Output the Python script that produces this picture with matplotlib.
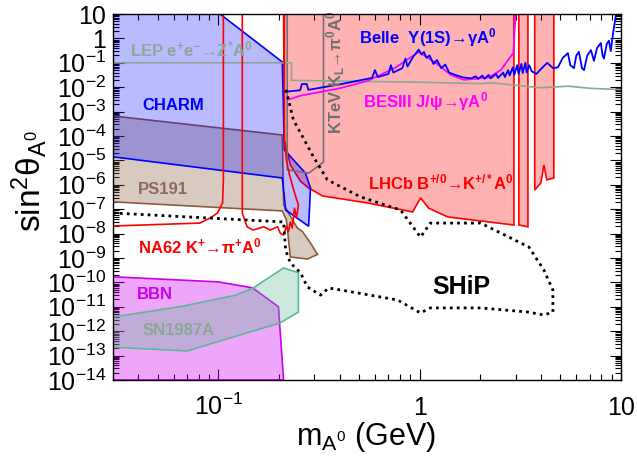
import matplotlib
matplotlib.use("Agg")
import matplotlib.pyplot as plt
from matplotlib.ticker import LogLocator, FixedLocator, FuncFormatter, NullFormatter
import numpy as np

plt.rcParams["font.family"] = ["Liberation Sans", "DejaVu Sans"]
plt.rcParams["mathtext.fontset"] = "custom"
plt.rcParams["mathtext.rm"] = "Liberation Sans"
plt.rcParams["mathtext.it"] = "Liberation Sans:italic"
plt.rcParams["mathtext.bf"] = "Liberation Sans:bold"

# ---- data: mass m_A0 in GeV, sin^2 theta ----
charm_m = [0.03, 0.102, 0.208, 0.213, 0.271, 0.287, 0.281, 0.216, 0.208, 0.03]
charm_s = [10, 10, 0.108, 2.7e-5, 3.0e-6, 7.4e-7, 2.0e-8, 9.3e-8, 1.9e-6, 1.4e-5]

ps191_m = [0.03, 0.208, 0.211, 0.247, 0.262, 0.287, 0.311, 0.277, 0.228, 0.218, 0.208, 0.03]
ps191_s = [6.6e-4, 1.1e-4, 1.5e-7, 1.7e-8, 1.2e-8, 4.1e-9, 1.4e-9, 9.1e-10, 1.1e-9, 3.6e-8, 8.5e-8, 2.0e-7]

lhcb_m = [0.211, 2.94, 2.94, 1.38, 1.11, 1.01, 0.923, 0.551, 0.329, 0.281, 0.256, 0.228, 0.213]
lhcb_s = [10, 10, 2.25e-8, 4.8e-8, 1.1e-7, 2.9e-7, 7.7e-8, 1.8e-7, 3.5e-7, 7.4e-7, 1.4e-6, 6.5e-6, 7e-5]
band1_m = [3.11, 3.45, 3.45, 3.11]
band1_s = [10, 10, 1.9e-8, 2.25e-8]
band2_m = [3.73, 4.64, 4.64, 4.28, 4.14, 4.0, 3.73]
band2_s = [10, 10, 1.9e-6, 1.6e-6, 6.5e-6, 1.2e-6, 6.1e-7]

ktev_m = [0.220, 0.220, 0.281, 0.333, 0.333]
ktev_s = [10, 4.1e-6, 3.0e-6, 8.5e-6, 10]

lep_m = [0.03, 0.231, 0.231, 1.0, 2.0, 2.3, 3.0, 4.0, 5.5, 7.0, 10.0]
lep_s = [0.1, 0.1, 1.9e-2, 1.6e-2, 1.4e-2, 1.5e-2, 1.2e-2, 9.5e-3, 1.1e-2, 9e-3, 8e-3]

na62a_m = [0.03, 0.081, 0.0912, 0.099, 0.105, 0.106, 0.106]
na62a_s = [2.05e-8, 2.7e-8, 4.4e-8, 6.9e-8, 1.8e-7, 1.6e-6, 10]
na62b_m = [0.1316, 0.1316, 0.139, 0.149, 0.168, 0.181, 0.197, 0.203, 0.211, 0.218, 0.223,
           0.228, 0.233, 0.239, 0.245, 0.25, 0.241, 0.233, 0.226, 0.218, 0.213, 0.213]
na62b_s = [10, 6.9e-8, 1.9e-8, 1.4e-8, 1.9e-8, 1.4e-8, 1.9e-8, 1.05e-8, 8.7e-9, 2.05e-8, 1.2e-8,
           3e-8, 1.7e-8, 1.1e-7, 4.4e-8, 1.5e-7, 3.8e-7, 1e-6, 2.5e-6, 1e-5, 7e-5, 10]

bbn_m = [0.03, 0.1, 0.148, 0.199, 0.211, 0.03]
bbn_s = [1.7e-10, 1.05e-10, 6e-11, 1e-11, 1e-14, 1e-14]

sn_m = [0.03, 0.067, 0.122, 0.149, 0.211, 0.25, 0.25, 0.203, 0.070, 0.03]
sn_s = [3.8e-12, 1.07e-11, 3e-11, 5.9e-11, 3.9e-10, 2.5e-10, 6.1e-12, 2.2e-12, 1.55e-13, 2.2e-13]

ship_m = [0.03, 0.211, 0.216, 0.228, 0.256, 0.277, 0.322, 0.353, 0.405, 0.777, 1.01, 1.13, 2.01,
          3.45, 4.14, 4.59, 4.59, 4.14, 3.49, 2.01, 1.13, 1.01, 0.804, 0.508, 0.348, 0.297,
          0.236, 0.216]
ship_s = [7e-8, 3e-8, 2.1e-9, 6.3e-10, 2.5e-10, 6.5e-11, 3e-11, 5.9e-11, 4.9e-11, 1.9e-11,
          5.6e-12, 9e-12, 9e-12, 6.1e-12, 4.6e-12, 6.1e-12, 4.9e-11, 3.2e-10, 2.8e-9, 2.7e-8,
          2.7e-8, 7.2e-9, 9.3e-8, 3.2e-7, 1.6e-6, 1.4e-5, 4.6e-4, 9.3e-3]

belle_m = [0.215, 0.255, 0.260, 0.275, 0.280, 0.40, 0.58, 0.60, 0.62, 0.70, 0.72, 0.74, 0.82,
           0.85, 0.87, 0.93, 0.96, 0.99, 1.02, 1.05, 1.08, 1.12, 1.17, 1.22, 1.28, 1.34, 1.40,
           1.50, 1.65, 1.80, 1.90, 1.95, 2.05, 2.10, 2.20, 2.25, 2.40, 2.45, 2.60, 2.65, 2.75,
           2.80, 2.90, 2.95, 3.05, 3.10, 3.20, 3.25, 3.35, 3.40, 3.50, 3.60, 3.80, 4.00, 4.30,
           4.60, 4.86, 5.14, 5.45, 5.60, 5.84, 6.00, 6.18, 6.40, 6.55, 6.80, 7.09, 7.34, 7.60,
           7.94, 8.10, 8.23, 8.50, 8.71, 8.90, 9.12, 9.33, 9.44]
belle_s = [6.5e-3, 7.5e-3, 1.35e-2, 1.35e-2, 7.8e-3, 1.3e-2, 2.4e-2, 5.0e-2, 2.6e-2, 3.5e-2,
           8.0e-2, 4.0e-2, 6.0e-2, 1.5e-1, 7.0e-2, 1.8e-1, 2.5e-1, 3.5e-1, 2.2e-1, 2.8e-1,
           1.6e-1, 2.0e-1, 9.0e-2, 1.3e-1, 6.0e-2, 8.5e-2, 4.0e-2, 3.2e-2, 2.5e-2, 2.3e-2,
           2.8e-2, 2.2e-2, 3.0e-2, 2.2e-2, 3.2e-2, 2.3e-2, 3.5e-2, 2.4e-2, 4.0e-2, 2.6e-2,
           5.0e-2, 3.0e-2, 6.5e-2, 3.2e-2, 8.0e-2, 3.5e-2, 9.0e-2, 3.8e-2, 1.0e-1, 4.0e-2,
           8.0e-2, 4.5e-2, 3.5e-2, 5.5e-2, 1.0e-1, 6.0e-2, 6.5e-2, 1.6e-1, 2.5e-1, 8.0e-2,
           6.0e-2, 2.0e-1, 2.8e-1, 6.0e-2, 5.0e-2, 2.0e-1, 3.3e-1, 1.2e-1, 4.0e-1, 6.5e-1,
           2.0e-1, 1.5e-1, 6.0e-1, 8.0e-1, 3.0e-1, 1.5, 5.0, 10]

bes_m = [0.220, 0.256, 0.40, 0.55, 0.75, 0.99, 1.2, 1.43, 1.66, 2.2, 2.53, 2.8, 2.92, 2.97, 3.0]
bes_s = [3e-3, 4.5e-3, 9e-3, 1.8e-2, 6e-2, 0.28, 0.1, 0.032, 0.02, 0.025, 0.05, 0.16, 0.25, 3, 10]

ytick_vals = [10.0 ** k for k in range(-14, 2)]
xtick_vals = [0.1, 1.0, 10.0]
xtick_text = [r"$10^{-1}$", "1", "10"]

BLUE = "#0000ff"
RED = "#ff0000"
BROWN = "#8c6a5a"
MAGENTA = "#cc00ee"
LEPGREEN = "#8aa892"
GREY = "#707070"

fig = plt.figure(figsize=(6.37, 4.57), dpi=100)
ax = fig.add_axes([113 / 637, 1 - 380 / 457, 508 / 637, 366 / 457])
ax.set_xscale("log")
ax.set_yscale("log")
ax.set_xlim(0.03, 10)
ax.set_ylim(1e-14, 10)


def region(m, s, color, alpha, z):
    ax.fill(m, s, facecolor=color, alpha=alpha, edgecolor="none", zorder=z)
    ax.fill(m, s, facecolor="none", edgecolor=color, linewidth=1.2, zorder=z + 0.5)


region(lhcb_m, lhcb_s, RED, 0.30, 1)
region(band1_m, band1_s, RED, 0.30, 1)
region(band2_m, band2_s, RED, 0.30, 1)
region(ps191_m, ps191_s, "#8b5a40", 0.32, 2)
region(charm_m, charm_s, BLUE, 0.27, 3)
region(bbn_m, bbn_s, MAGENTA, 0.35, 2)
region(sn_m, sn_s, "#5cb890", 0.30, 3)

ax.plot(ktev_m, ktev_s, color=GREY, lw=1.2, zorder=5)
ax.plot(lep_m, lep_s, color=LEPGREEN, lw=1.2, zorder=5)
ax.plot(na62a_m, na62a_s, color=RED, lw=1.2, zorder=5)
ax.plot(na62b_m, na62b_s, color=RED, lw=1.2, zorder=5)
ax.plot(bes_m, bes_s, color="#ff00ff", lw=1.3, zorder=6)
ax.plot(belle_m, belle_s, color=BLUE, lw=1.3, zorder=6)
ax.plot(ship_m, ship_s, color="black", lw=2.0, linestyle=(0, (1, 1.5)), zorder=7)

lab = dict(fontsize=12, fontweight="bold", ha="left", va="center", zorder=8)
ax.text(0.0365, 0.34, r"LEP e$^{\mathbf{+}}$e$^{\mathbf{-}}$→Z$^{\mathbf{*}}$A$^{\mathbf{0}}$",
        color=LEPGREEN, **lab)
ax.text(0.0419, 1.7e-3, "CHARM", color=BLUE, **lab)
ax.text(0.040, 6.7e-7, "PS191", color=BROWN, **lab)
ax.text(0.040, 3.1e-9, r"NA62 K$^{\mathbf{+}}$→π$^{\mathbf{+}}$A$^{\mathbf{0}}$", color=RED, **lab)
ax.text(0.0395, 3.3e-11, "BBN", color=MAGENTA, **lab)
ax.text(0.0419, 1.1e-12, "SN1987A", color=LEPGREEN, **lab)
ax.text(0.497, 1.04, r"Belle  Υ(1S)→γA$^{\mathbf{0}}$", color=BLUE, **lab)
ax.text(0.526, 2.5e-3, r"BESIII J/ψ→γA$^{\mathbf{0}}$", color="#ff00ff", **lab)
ax.text(0.557, 1.3e-6, r"LHCb B$^{\mathbf{+/0}}$→K$^{\mathbf{+/*}}$A$^{\mathbf{0}}$",
        color=RED, **lab)
ax.text(0.382, 0.042, r"KTeV K$_{\mathbf{L}}$→π$^{\mathbf{0}}$A$^{\mathbf{0}}$", color=GREY,
        fontsize=12, fontweight="bold", rotation=90, ha="center", va="center", zorder=8)
ax.text(1.16, 6.5e-11, "SHiP", color="black", fontsize=18, fontweight="bold",
        ha="left", va="center", zorder=8)

# axes styling
for sp in ax.spines.values():
    sp.set_linewidth(1.0)
    sp.set_zorder(10)


def yfmt(v, pos):
    e = int(round(np.log10(v)))
    if e == 1:
        return "10"
    if e == 0:
        return "1"
    return r"$10^{%d}$" % e


ax.yaxis.set_major_locator(FixedLocator(ytick_vals))
ax.yaxis.set_minor_locator(LogLocator(base=10, subs=np.arange(2, 10), numticks=40))
ax.yaxis.set_major_formatter(FuncFormatter(yfmt))
ax.yaxis.set_minor_formatter(NullFormatter())
ax.xaxis.set_major_locator(FixedLocator(xtick_vals))
ax.xaxis.set_minor_locator(LogLocator(base=10, subs=np.arange(2, 10), numticks=20))
ax.xaxis.set_major_formatter(NullFormatter())
ax.xaxis.set_minor_formatter(NullFormatter())
ax.tick_params(which="both", direction="in", top=True, right=True, width=0.8)
ax.tick_params(which="major", length=8)
ax.tick_params(which="minor", length=4)
ax.tick_params(axis="y", which="major", labelsize=18, pad=5)

for xv, xt in zip(xtick_vals, xtick_text):
    ax.text(xv, -0.095, xt, transform=ax.get_xaxis_transform(), fontsize=18,
            ha="center", va="baseline")

fig.text(0.575, 0.026, r"m$_{\mathrm{A}^{0}}$ (GeV)", fontsize=22, ha="center", va="baseline")
fig.text(0.045, 0.604, r"sin$^{2}\mathrm{\theta}_{\mathrm{A}^{0}}$", fontsize=24,
         rotation=90, ha="center", va="center")

fig.savefig("out.png", dpi=100)
